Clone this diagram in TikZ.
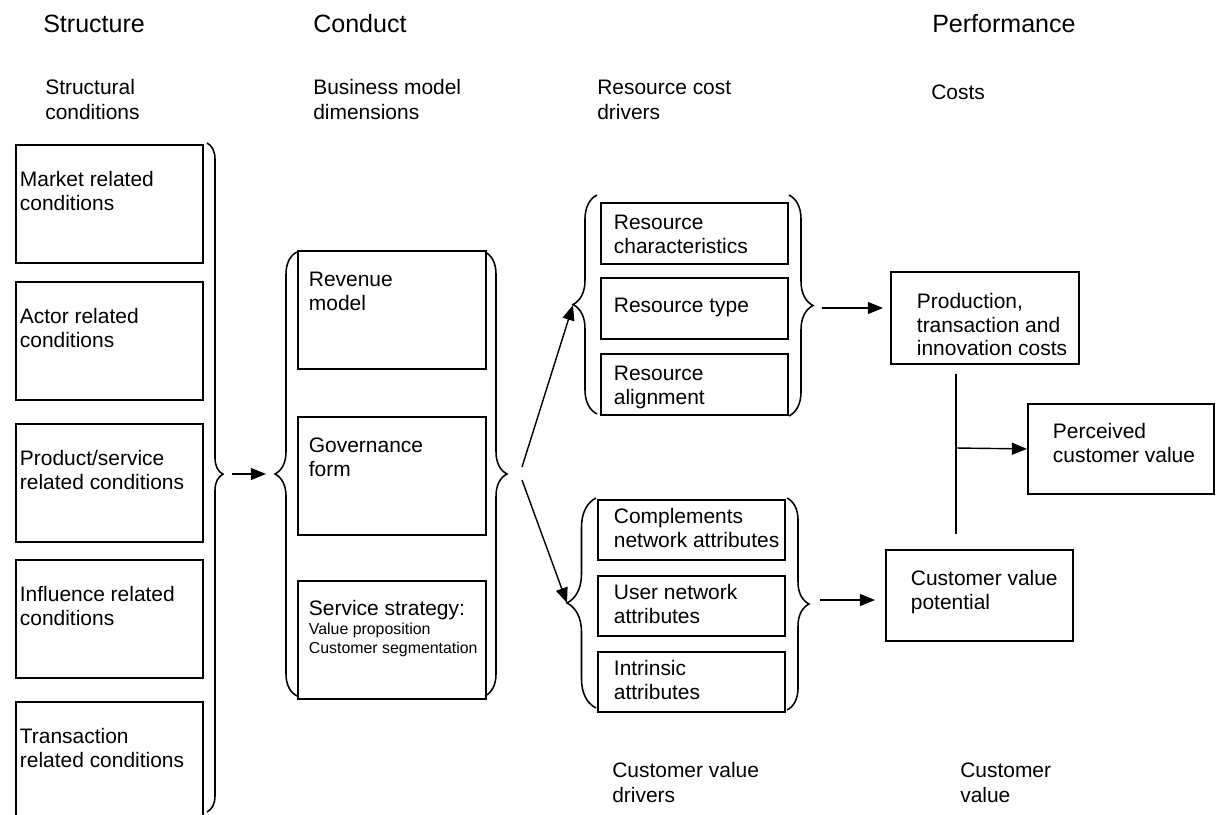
\documentclass[tikz,border=0pt]{standalone}
\usepackage{fontspec}
\setmainfont{Liberation Sans}
\usetikzlibrary{arrows.meta, calc, decorations.pathreplacing}

\newcommand\bodyfont{\fontsize{14.9}{16.7}\selectfont}
\newcommand\labfont{\fontsize{14.9}{17.8}\selectfont}
\newcommand\headfont{\fontsize{17.8}{20}\selectfont}
\newcommand\notefont{\fontsize{11.3}{13.5}\selectfont}

\begin{document}
\begin{tikzpicture}[
  x=0.025cm, y=-0.025cm,
  box/.style={draw, line width=1.3pt, anchor=north west, inner sep=0pt,
              align=left, font=\bodyfont, text width=4.675cm},
  lskip/.style={execute at begin node={\leftskip=#1\spaceskip=0pt\xspaceskip=0pt}},
  cond/.style={box, lskip=0.1cm, text height=1.05cm, text depth=1.9cm},      % structural conditions
  dim/.style={box, lskip=0.275cm, text width=4.7cm,
              text height=0.9cm, text depth=2.05cm},                         % business model dimensions
  rcd/.style={box, lskip=0.325cm, text height=0.675cm, text depth=0.85cm},  % resource cost drivers
  cvd/.style={box, lskip=0.4cm, text height=0.6cm, text depth=0.9cm},       % customer value drivers
  perf/.style={box, lskip=0.625cm, text depth=1.375cm},                     % performance
  head/.style={anchor=base west, inner sep=0pt, text width=5cm, align=left,
               font=\headfont, lskip=0pt},
  lab/.style={head, font=\labfont},
  curly/.style={decorate, decoration={brace, amplitude=#1}, line width=1.1pt},
  arr/.style={-{Triangle[length=3.8mm, width=3mm]}, line width=1pt},
  link/.style={line width=1pt},
]
  \useasboundingbox (0,0) rectangle (1220,814);
  \clip (0,0) rectangle (1220,814);

  % ---- headings ----
  \node[head] (s-head) at (43,33)  {Structure};
  \node[head] (c-head) at (313,33) {Conduct};
  \node[head] (p-head) at (932,33) {Performance};

  \node[lab] (sc-lab) at (45,94.5)  {Structural\\conditions};
  \node[lab] (bm-lab) at (313,94.5) {Business model\\dimensions};
  \node[lab] (rc-lab) at (597,94.5) {Resource cost\\drivers};
  \node[lab] (co-lab) at (931,100)  {Costs};
  \node[lab] (cv-lab) at (612,777)  {Customer value\\drivers};
  \node[lab] (cu-lab) at (960,777)  {Customer\\value};

  % ---- structural conditions ----
  \node[cond] (mkt)    at (15,144) {Market related\\conditions};
  \node[cond] (actor)  at (15,281) {Actor related\\conditions};
  \node[cond] (prodsv) at (15,423) {Product/service\\related conditions};
  \node[cond] (infl)   at (15,559) {Influence related\\conditions};
  \node[cond, text depth=2.2cm] (trans) at (15,701) {Transaction\\related conditions};

  % ---- business model dimensions ----
  \node[dim] (rev)  at (297,250) {Revenue\\model};
  \node[dim] (gov)  at (297,416) {Governance\\form};
  \node[dim, text height=0.86cm, text depth=2.09cm] (serv) at (297,580)
    {Service strategy:\\\notefont Value proposition\\Customer segmentation\par};

  % ---- resource cost drivers ----
  \node[rcd] (rchar) at (600,202) {Resource\\characteristics};
  \node[rcd, text height=0.875cm, text depth=0.65cm] (rtype) at (600,277) {Resource type};
  \node[rcd] (ralign) at (600,353) {Resource\\alignment};

  % ---- customer value drivers ----
  \node[cvd] (compl) at (597,499) {Complements\\network attributes};
  \node[cvd] (user)  at (597,575) {User network\\attributes};
  \node[cvd] (intr)  at (597,651) {Intrinsic\\attributes};

  % ---- performance ----
  \node[perf, lskip=0.65cm, text width=4.7cm, text height=0.925cm] (prod) at (890,271)
    {Production,\\transaction and\\innovation costs};
  \node[perf, text width=4.65cm, text height=0.875cm] (perc) at (1027,403)
    {Perceived\\customer value};
  \node[perf, text height=0.9cm] (cvp) at (885,549) {Customer value\\potential};

  % ---- braces ----
  \draw[curly=0.4cm, decoration={aspect=0.495}] (207,143) -- (207,812);   % structure
  \draw[curly=0.55cm] (297,696) -- (297,252);                              % conduct, in
  \draw[curly=0.55cm] (485,252) -- (485,696);                              % conduct, out
  \draw[curly=0.6cm] (597,414) -- (597,195);                               % cost drivers, in
  \draw[curly=0.6cm] (789,195) -- (789,416);                               % cost drivers, out
  \draw[curly=0.725cm] (596,708) -- (596,498);                             % value drivers, in
  \draw[curly=0.55cm] (787,498) -- (787,710);                              % value drivers, out

  \coordinate (sc-out) at (223,474);
  \coordinate (bm-in)  at (275,474);
  \coordinate (bm-out) at (507,474);
  \coordinate (rc-in)  at (573,305);
  \coordinate (rc-out) at (813,305);
  \coordinate (cv-in)  at (567,603);
  \coordinate (cv-out) at (809,604);
  \coordinate (jt)     at (956,448);

  % ---- arrows ----
  \draw[arr] ($(sc-out)+(9,0)$) -- ($(bm-in)+(-9,0)$);
  \draw[arr] ($(bm-out)+(15,-7)$) -- (rc-in);
  \draw[arr] ($(bm-out)+(15,6)$) -- (cv-in);
  \draw[arr] ($(rc-out)+(9,3)$) -- ($(rc-out -| prod.west)+(-7,3)$);
  \draw[arr] ($(cv-out)+(11,-4)$) -- ($(cv-out -| cvp.west)+(-10,-4)$);
  \draw[link] ($(prod.south west)+(66,9)$) -- ($(cvp.north west)+(71,-15)$);
  \draw[arr] (jt) -- (perc.west);
\end{tikzpicture}
\end{document}
